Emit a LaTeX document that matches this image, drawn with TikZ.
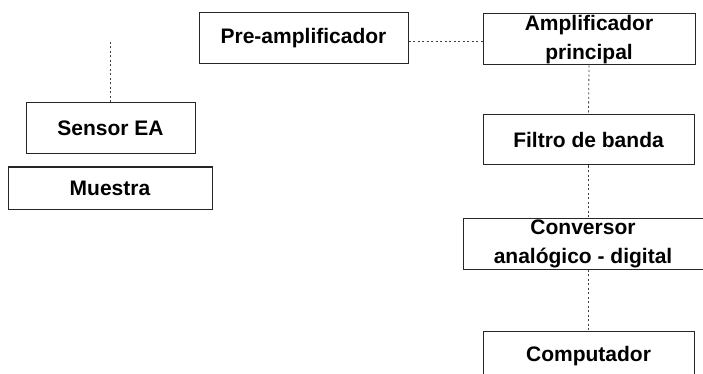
\documentclass[tikz,border=0pt]{standalone}
\usepackage{fontspec}
\setmainfont{Liberation Sans}
\begin{document}
\begin{tikzpicture}[x=1pt,y=-1pt,
  blk/.style={draw=black!85, line width=1pt, fill=white, rectangle, inner sep=0pt,
    align=center, font=\bfseries\fontsize{21}{29}\selectfont, text=black},
  conn/.style={draw=black!75, line width=0.8pt, dash pattern=on 2pt off 2.5pt}]
\useasboundingbox (0,0) rectangle (703,374);
\clip (0,0) rectangle (703,374);
\fill[white] (0,0) rectangle (703,374);
\node[blk, minimum width=209pt, minimum height=51pt] (pre) at (303.5,38.5) {Pre-amplificador};
\node[blk, minimum width=169pt, minimum height=51pt] (sen) at (110.5,128.5) {Sensor EA};
\node[blk, minimum width=204pt, minimum height=42pt] (mue) at (110,188) {Muestra};
\node[blk, minimum width=212pt, minimum height=51pt] (amp) at (589,39.5) {Amplificador\\principal};
\node[blk, minimum width=211pt, minimum height=50pt] (fil) at (588.5,140) {Filtro de banda};
\node[blk, minimum width=240pt, minimum height=51pt] (con) at (583,243.5) {Conversor\\anal\'ogico - digital};
\node[blk, minimum width=211pt, minimum height=51pt] (com) at (588.5,356.5) {Computador};
\coordinate (stop) at (110.5,40);
\draw[conn] (sen.north) -- (stop);
\draw[conn] (pre.east |- 0,41) -- (amp.west |- 0,41);
\draw[conn] (amp.south) -- (fil.north);
\draw[conn] (fil.south) -- (fil.south |- con.north);
\draw[conn] (fil.south |- con.south) -- (com.north);
\end{tikzpicture}
\end{document}
